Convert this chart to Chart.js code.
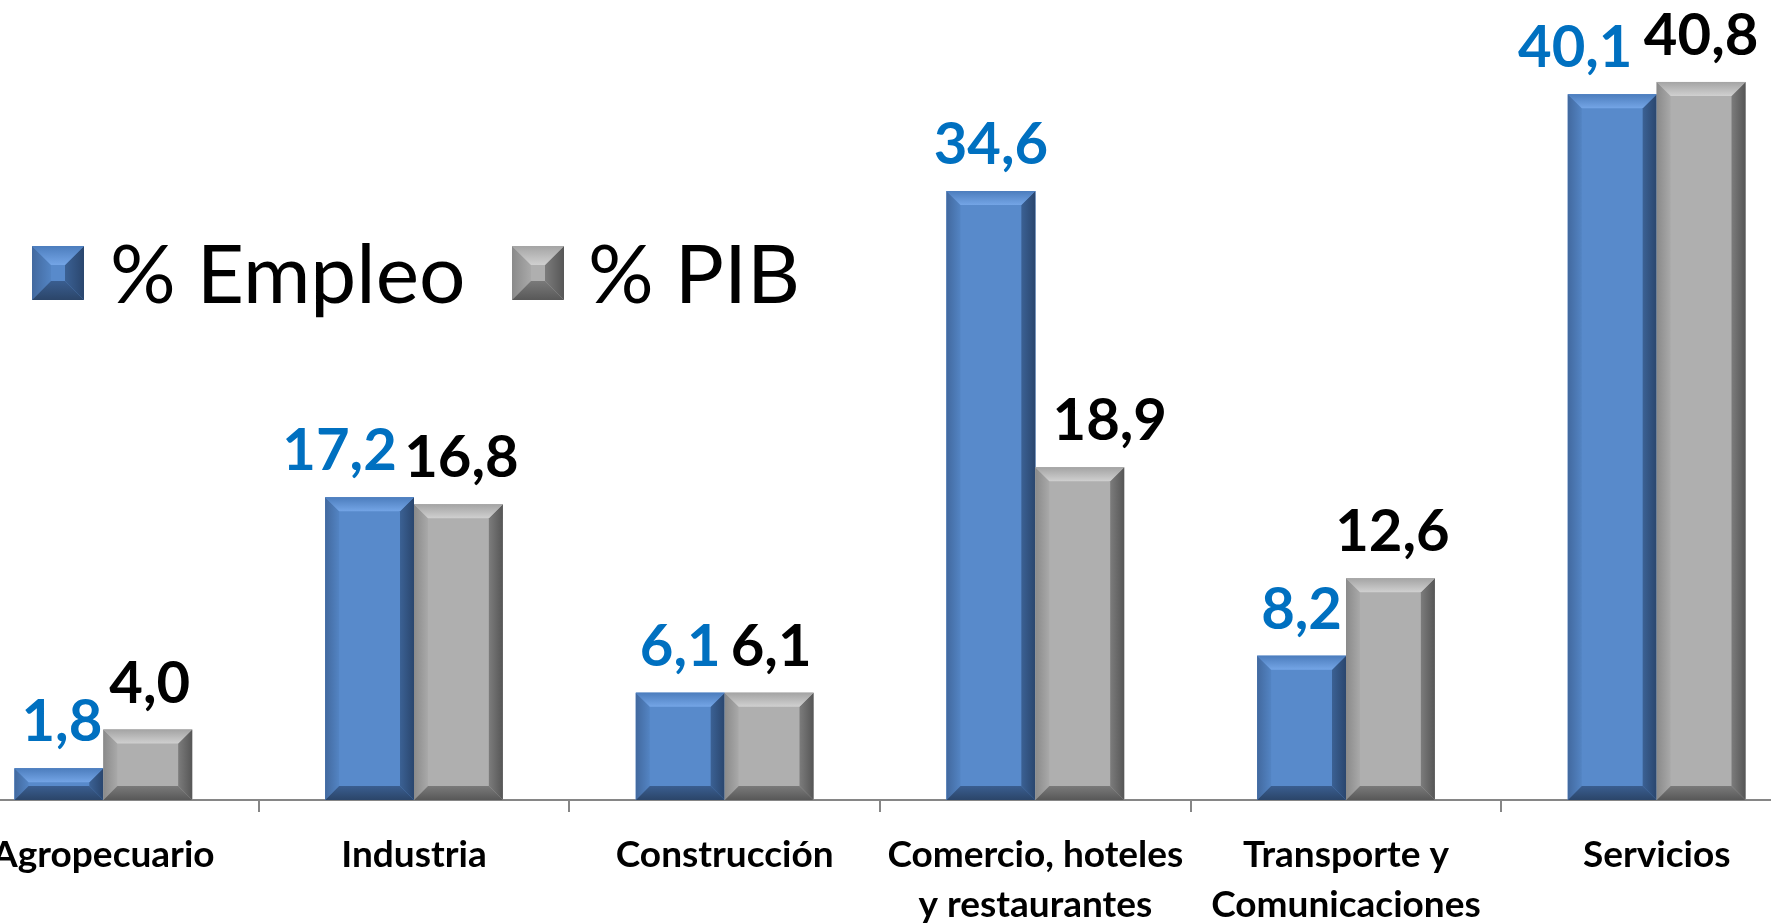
<!DOCTYPE html>
<html><head><meta charset="utf-8">
<script src="https://cdn.jsdelivr.net/npm/chart.js@4.4.1/dist/chart.umd.min.js"></script>
<style>
html,body{margin:0;padding:0;background:#fff;overflow:hidden;width:1771px;height:923px;}
#wrap{position:absolute;left:-52px;top:0;width:1864px;height:923px;}
</style></head><body>
<div id="wrap"><canvas id="c" width="1864" height="923"></canvas></div>
<script>
// ---- data ----
const categories = ['Agropecuario', 'Industria', 'Construcción', ['Comercio, hoteles', 'y restaurantes'], ['Transporte y', 'Comunicaciones'], 'Servicios'];
const seriesNames = ['% Empleo', '% PIB'];
const empleo = [1.8, 17.2, 6.1, 34.6, 8.2, 40.1];
const pib = [4.0, 16.8, 6.1, 18.9, 12.6, 40.8];
const yMin = 0;
const yMax = 45;
// manual nudges of some value labels (px), as in the original
const empleoLabelShift = [3, -30, 0, 0, 0, -37];
const pibLabelShift = [2, 3, 2, 30, 2, 0];

// ---- styles ----
const CANVAS_SHIFT = 52; // canvas starts 52px left of the page
const palettes = [
  { face: '#588acb', top: ['#4c7dbd', '#74a5e6'], left: ['#42699f', '#5384c3'], right: ['#3b6194', '#2a466e'], bottom: ['#3a5e90', '#2b4569'] },
  { face: '#afafaf', top: ['#a4a4a4', '#d0d0d0'], left: ['#8a8a8a', '#a9a9a9'], right: ['#7c7c7c', '#565656'], bottom: ['#7a7a7a', '#585858'] }
];
const labelColors = ['#0070c0', '#000000'];
const labelShifts = [empleoLabelShift, pibLabelShift];

function drawBevel(ctx, l, t, r, b, size, pal) {
  const w = r - l, h = b - t;
  if (w <= 0 || h <= 0) return;
  const bx = Math.min(size, w / 2), by = Math.min(size, h / 2);
  const lg = (x0, y0, x1, y1, c) => { const g = ctx.createLinearGradient(x0, y0, x1, y1); g.addColorStop(0, c[0]); g.addColorStop(1, c[1]); return g; };
  const poly = (pts, fill) => { ctx.beginPath(); ctx.moveTo(pts[0][0], pts[0][1]); for (let i = 1; i < pts.length; i++) ctx.lineTo(pts[i][0], pts[i][1]); ctx.closePath(); ctx.fillStyle = fill; ctx.fill(); };
  ctx.fillStyle = pal.face; ctx.fillRect(l, t, w, h);
  poly([[l, t], [l + bx, t + by], [l + bx, b - by], [l, b]], lg(l, 0, l + bx, 0, pal.left));
  poly([[r, t], [r - bx, t + by], [r - bx, b - by], [r, b]], lg(r - bx, 0, r, 0, pal.right));
  poly([[l, b], [l + bx, b - by], [r - bx, b - by], [r, b]], lg(0, b - by, 0, b, pal.bottom));
  poly([[l, t], [l + bx, t + by], [r - bx, t + by], [r, t]], lg(0, t, 0, t + by, pal.top));
}

const fmt = v => v.toFixed(1).replace('.', ',');

const bevelPlugin = {
  id: 'bevelAndLabels',
  afterDatasetsDraw(chart) {
    const ctx = chart.ctx;
    ctx.save();
    chart.data.datasets.forEach((ds, di) => {
      const meta = chart.getDatasetMeta(di);
      meta.data.forEach(el => {
        const p = el.getProps(['x', 'y', 'base', 'width'], true);
        drawBevel(ctx, p.x - p.width / 2, p.y, p.x + p.width / 2, p.base, 14, palettes[di]);
      });
    });
    ctx.font = 'bold 58px Lato';
    ctx.textAlign = 'center';
    ctx.textBaseline = 'alphabetic';
    chart.data.datasets.forEach((ds, di) => {
      const meta = chart.getDatasetMeta(di);
      ctx.fillStyle = labelColors[di];
      meta.data.forEach((el, i) => {
        const p = el.getProps(['x', 'y'], true);
        ctx.fillText(fmt(ds.data[i]), p.x + labelShifts[di][i], p.y - 27);
      });
    });
    // legend inside the plot
    const items = [{ box: 32, text: 110 }, { box: 512, text: 588 }];
    ctx.font = 'normal 82px Lato';
    ctx.textAlign = 'left';
    chart.data.datasets.forEach((ds, di) => {
      const it = items[di];
      const bl = it.box + CANVAS_SHIFT;
      drawBevel(ctx, bl, 246, bl + 52, 300, 19, palettes[di]);
      ctx.fillStyle = '#000';
      ctx.fillText(ds.label, it.text + CANVAS_SHIFT, 303);
    });
    ctx.restore();
  }
};

new Chart(document.getElementById('c'), {
  type: 'bar',
  data: {
    labels: categories,
    datasets: [
      { label: seriesNames[0], data: empleo, backgroundColor: palettes[0].face, borderWidth: 0 },
      { label: seriesNames[1], data: pib, backgroundColor: palettes[1].face, borderWidth: 0 }
    ]
  },
  options: {
    responsive: false,
    devicePixelRatio: 1,
    animation: false,
    layout: { padding: { top: 8, left: 0, right: 0, bottom: 0 } },
    plugins: { legend: { display: false }, tooltip: { enabled: false } },
    datasets: { bar: { categoryPercentage: 0.572, barPercentage: 1.0 } },
    scales: {
      x: {
        grid: { display: true, drawOnChartArea: false, drawTicks: true, tickLength: 12, color: '#868686', lineWidth: 2, offset: true },
        border: { display: true, color: '#868686', width: 2 },
        ticks: { color: '#000', font: { family: 'Lato', weight: 'bold', size: 37, lineHeight: 1.35 }, padding: 18, maxRotation: 0, autoSkip: false },
        afterFit: s => { s.height = 123; }
      },
      y: { display: false, min: yMin, max: yMax }
    }
  },
  plugins: [bevelPlugin]
});
</script>
</body></html>
